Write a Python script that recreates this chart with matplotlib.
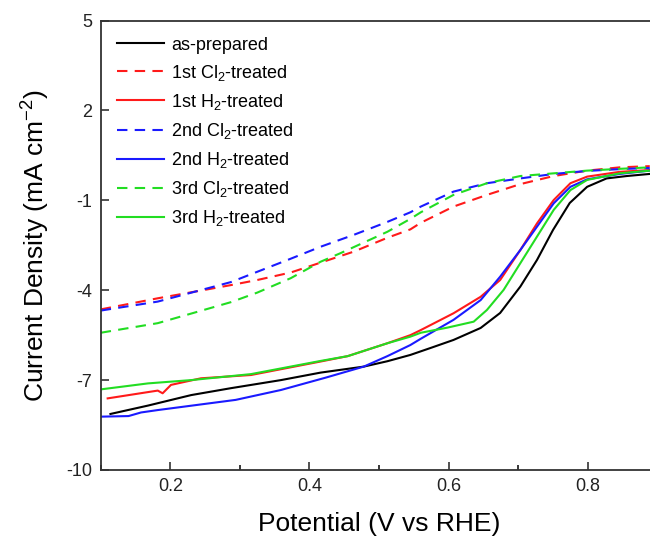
import matplotlib
matplotlib.use("Agg")
import matplotlib.pyplot as plt
from matplotlib.ticker import MultipleLocator

plt.rcParams['font.family'] = ['Liberation Sans', 'DejaVu Sans']
plt.rcParams['mathtext.fontset'] = 'custom'
plt.rcParams['mathtext.rm'] = 'Liberation Sans'
plt.rcParams['mathtext.it'] = 'Liberation Sans:italic'
plt.rcParams['mathtext.bf'] = 'Liberation Sans:bold'
plt.rcParams['axes.unicode_minus'] = False

# as-prepared
v_asprep = [0.114, 0.168, 0.230, 0.287, 0.359, 0.416, 0.478, 0.512, 0.545, 0.575,
            0.607, 0.646, 0.674, 0.703, 0.727, 0.750, 0.774, 0.799, 0.827, 0.856, 0.889]
j_asprep = [-8.13, -7.85, -7.50, -7.27, -7.00, -6.75, -6.55, -6.37, -6.16, -5.92,
            -5.66, -5.26, -4.76, -3.88, -2.99, -1.99, -1.09, -0.55, -0.27, -0.19, -0.12]

# 1st Cl2-treated
v_cl1 = [0.1, 0.182, 0.254, 0.287, 0.325, 0.373, 0.416, 0.464, 0.512, 0.545, 0.56, 0.607,
         0.655, 0.703, 0.751, 0.799, 0.846, 0.889]
j_cl1 = [-4.64, -4.27, -3.97, -3.83, -3.66, -3.41, -3.08, -2.71, -2.25, -1.97, -1.75, -1.21,
         -0.82, -0.46, -0.19, -0.01, 0.10, 0.14]

# 1st H2-treated
v_h1 = [0.110, 0.168, 0.182, 0.189, 0.201, 0.244, 0.316, 0.416, 0.455, 0.512,
        0.545, 0.56, 0.607, 0.646, 0.674, 0.703, 0.727, 0.751, 0.775, 0.799, 0.846, 0.889]
j_h1 = [-7.61, -7.40, -7.35, -7.44, -7.16, -6.94, -6.83, -6.38, -6.20, -5.77,
        -5.50, -5.33, -4.77, -4.22, -3.66, -2.66, -1.77, -0.99, -0.43, -0.21, -0.05, 0.01]

# 2nd Cl2-treated
v_cl2 = [0.1, 0.182, 0.287, 0.373, 0.416, 0.464, 0.512, 0.545, 0.56, 0.607, 0.655,
         0.703, 0.751, 0.799, 0.846, 0.889]
j_cl2 = [-4.68, -4.38, -3.73, -2.95, -2.55, -2.15, -1.72, -1.40, -1.21, -0.71, -0.43,
         -0.27, -0.12, -0.02, 0.04, 0.08]

# 2nd H2-treated
v_h2 = [0.1, 0.140, 0.158, 0.182, 0.294, 0.359, 0.423, 0.478, 0.512, 0.545, 0.56, 0.607,
        0.646, 0.674, 0.703, 0.727, 0.751, 0.775, 0.799, 0.846, 0.889]
j_h2 = [-8.22, -8.20, -8.08, -8.00, -7.66, -7.33, -6.92, -6.55, -6.20, -5.83, -5.62, -4.99,
        -4.33, -3.55, -2.66, -1.88, -1.1, -0.55, -0.3, -0.12, -0.01]

# 3rd Cl2-treated
v_cl3 = [0.1, 0.182, 0.287, 0.325, 0.373, 0.416, 0.445, 0.512, 0.545, 0.56, 0.607,
         0.655, 0.703, 0.751, 0.799, 0.846, 0.889]
j_cl3 = [-5.42, -5.10, -4.40, -4.08, -3.60, -3.05, -2.76, -2.05, -1.62, -1.40, -0.82,
         -0.43, -0.19, -0.10, -0.01, 0.05, 0.10]

# 3rd H2-treated
v_h3 = [0.1, 0.168, 0.230, 0.316, 0.416, 0.455, 0.512, 0.545, 0.56, 0.598, 0.636,
        0.655, 0.679, 0.703, 0.727, 0.751, 0.775, 0.799, 0.846, 0.889]
j_h3 = [-7.31, -7.11, -7.00, -6.80, -6.36, -6.20, -5.77, -5.55, -5.42, -5.25, -5.05,
        -4.66, -3.99, -3.1, -2.21, -1.32, -0.66, -0.32, -0.10, -0.01]

RED = '#ff1a1a'
BLUE = '#1a1aff'
GREEN = '#22dd22'
DASH = (5, 3.5)

fig = plt.figure(figsize=(6.5, 5.4), dpi=100)
ax = fig.add_axes([100.7 / 650, 70 / 540, 556.7 / 650, 449.5 / 540])

ax.plot(v_asprep, j_asprep, color='black', lw=1.5, label='as-prepared')
ax.plot(v_cl1, j_cl1, color=RED, lw=1.5, dashes=DASH, label='1st Cl$_2$-treated')
ax.plot(v_h1, j_h1, color=RED, lw=1.5, label='1st H$_2$-treated')
ax.plot(v_cl2, j_cl2, color=BLUE, lw=1.5, dashes=DASH, label='2nd Cl$_2$-treated')
ax.plot(v_h2, j_h2, color=BLUE, lw=1.5, label='2nd H$_2$-treated')
ax.plot(v_cl3, j_cl3, color=GREEN, lw=1.5, dashes=DASH, label='3rd Cl$_2$-treated')
ax.plot(v_h3, j_h3, color=GREEN, lw=1.5, label='3rd H$_2$-treated')

ax.set_xlim(0.1, 0.9)
ax.set_ylim(-10, 5)
ax.set_yticks([5, 2, -1, -4, -7, -10])
ax.xaxis.set_minor_locator(MultipleLocator(0.1))
ax.set_xticks([0.2, 0.4, 0.6, 0.8])
ax.tick_params(direction='in', which='major', length=6, width=1.1,
               labelsize=13, colors='#222222', pad=6)
ax.tick_params(direction='in', which='minor', length=3.5, width=1.1)
ax.tick_params(axis='x', which='both', top=False)
ax.tick_params(axis='y', which='both', right=False)
for s in ax.spines.values():
    s.set_linewidth(1.3)
    s.set_color('#333333')

ax.set_xlabel('Potential (V vs RHE)', fontsize=19, labelpad=12)
ax.set_ylabel('Current Density (mA cm$^{-2}$)', fontsize=19, labelpad=10)

leg = ax.legend(loc='upper left', bbox_to_anchor=(0.0, 1.0), frameon=False,
                fontsize=13, handlelength=2.6, handletextpad=0.4,
                labelspacing=0.5, borderaxespad=0.5)

fig.savefig('out.png', dpi=100)
